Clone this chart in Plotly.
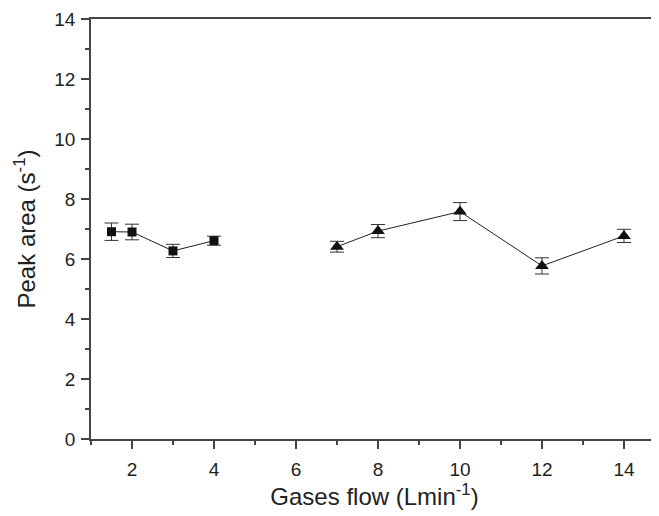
import plotly.graph_objects as go

# square series (low flow)
sq_x = [1.5, 2, 3, 4]
sq_y = [6.91, 6.90, 6.27, 6.61]
sq_err = [0.29, 0.26, 0.22, 0.15]

# triangle series (high flow)
tri_x = [7, 8, 10, 12, 14]
tri_y = [6.41, 6.93, 7.58, 5.77, 6.77]
tri_err = [0.18, 0.22, 0.30, 0.27, 0.22]

FONT = "Liberation Sans, Arial, sans-serif"

fig = go.Figure()
fig.add_trace(go.Scatter(
    x=sq_x, y=sq_y, mode="lines+markers",
    line=dict(color="#222222", width=1),
    marker=dict(symbol="square", size=9, color="#111111"),
    error_y=dict(type="data", array=sq_err, color="#333333", thickness=1, width=7),
    showlegend=False,
))
fig.add_trace(go.Scatter(
    x=tri_x, y=tri_y, mode="lines+markers",
    line=dict(color="#222222", width=1),
    marker=dict(symbol="triangle-up", size=12, color="#111111"),
    error_y=dict(type="data", array=tri_err, color="#333333", thickness=1, width=7),
    showlegend=False,
))

axis_common = dict(
    showgrid=False, zeroline=False, showline=True, linecolor="#444444", linewidth=1.5,
    ticks="outside", ticklen=8, tickwidth=1.5, tickcolor="#444444",
    tickfont=dict(family=FONT, size=19, color="#222222"),
    minor=dict(ticks="outside", ticklen=4, tickwidth=1.5, tickcolor="#444444", dtick=1),
)

fig.update_xaxes(
    range=[1, 14.83], tickvals=[2, 4, 6, 8, 10, 12, 14], mirror=True, ticklabelstandoff=4,
    title=dict(text="Gases flow (Lmin<sup>-1</sup>)", font=dict(family=FONT, size=24, color="#222222"), standoff=10),
    **axis_common,
)
fig.update_yaxes(
    range=[0, 14], tickvals=[0, 2, 4, 6, 8, 10, 12, 14], ticklabelstandoff=2,
    title=dict(text="Peak area (s<sup>-1</sup>)", font=dict(family=FONT, size=24, color="#222222"), standoff=12),
    **axis_common,
)

# the page body keeps its default 8px margin, so the figure is sized to fit
fig.update_layout(
    width=651, height=508,
    margin=dict(l=83, r=1, t=11, b=77),
    plot_bgcolor="white", paper_bgcolor="white",
)

fig.write_html("out.html")
